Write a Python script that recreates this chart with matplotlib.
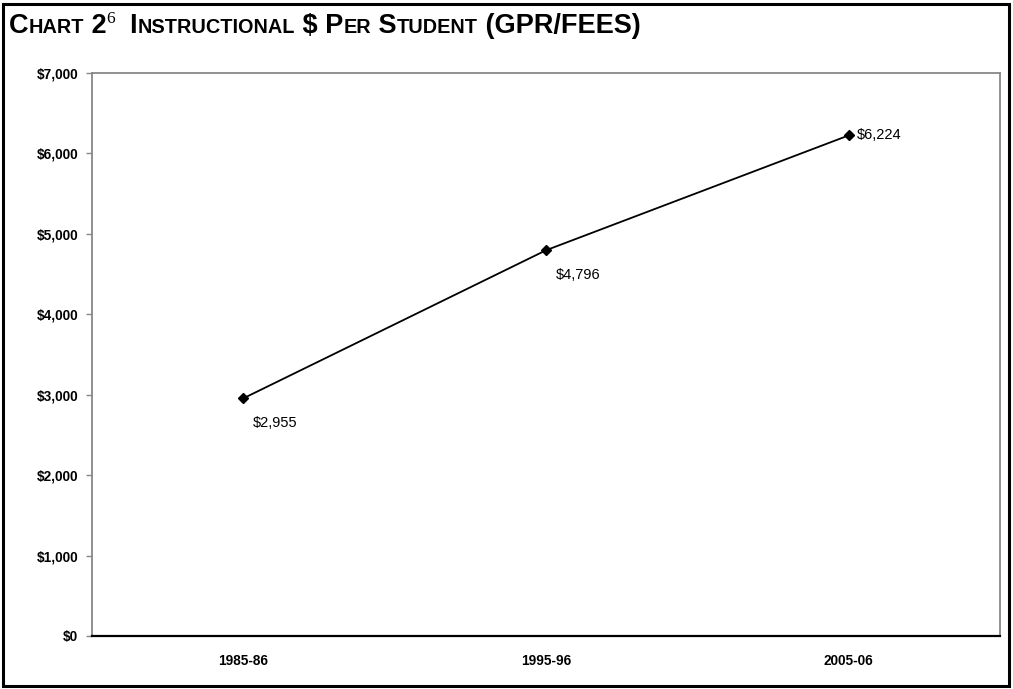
import matplotlib
matplotlib.use("Agg")
import matplotlib.pyplot as plt
from matplotlib.patches import Rectangle

categories = ["1985-86", "1995-96", "2005-06"]
values = [2955, 4796, 6224]
labels = ["$2,955", "$4,796", "$6,224"]
yticks = [0, 1000, 2000, 3000, 4000, 5000, 6000, 7000]
ytick_labels = ["$0", "$1,000", "$2,000", "$3,000", "$4,000", "$5,000", "$6,000", "$7,000"]

W, H = 1013, 689
fig = plt.figure(figsize=(W / 100, H / 100), dpi=100)
plt.rcParams['font.family'] = ['Liberation Sans', 'DejaVu Sans']

# outer frame
fig.patches.append(Rectangle((3 / W, 3 / H), (W - 7) / W, (H - 7) / H, transform=fig.transFigure,
                             fill=False, edgecolor='black', linewidth=2.2))

left, right, top, bottom = 92, 1000, 73, 636
ax = fig.add_axes([left / W, 1 - bottom / H, (right - left) / W, (bottom - top) / H])
x = list(range(len(categories)))
ax.plot(x, values, color='black', linewidth=1.3, marker='D', markersize=5.5,
        markerfacecolor='black', markeredgecolor='black')
ax.set_xlim(-0.5, 2.5)
ax.set_ylim(0, 7000)
ax.set_yticks(yticks)
ax.set_yticklabels(ytick_labels, fontsize=9.8, fontweight='bold')
ax.set_xticks(x)
ax.set_xticklabels(categories, fontsize=9.8, fontweight='bold')
ax.tick_params(axis='x', length=0, pad=13)
ax.tick_params(axis='y', length=4, width=1, color='#888888', pad=6, direction='out')
for s in ['top', 'right', 'left']:
    ax.spines[s].set_color('#888888')
    ax.spines[s].set_linewidth(1.3)
ax.spines['bottom'].set_color('black')
ax.spines['bottom'].set_linewidth(1.6)

offsets = [(7, -18), (7, -18), (6, 0)]
for xi, v, lab, off in zip(x, values, labels, offsets):
    ax.annotate(lab, (xi, v), xytext=off, textcoords='offset points',
                fontsize=10.5, ha='left', va='center')

# title with small caps
big, small = 19.5, 14.3
pieces = [("C", big, 'sans'), ("HART", small, 'sans'), (" 2", big, 'sans'), ("6", 12.5, 'serif'),
          ("  I", big, 'sans'), ("NSTRUCTIONAL", small, 'sans'), (" $ P", big, 'sans'), ("ER", small, 'sans'),
          (" S", big, 'sans'), ("TUDENT", small, 'sans'), (" (GPR/FEES)", big, 'sans')]
renderer = fig.canvas.get_renderer()
xpos = 9
base_y = H - 33
for txt, fs, fam in pieces:
    yy = base_y
    if fam == 'serif':
        yy = base_y + 10
        t = fig.text(xpos / W, yy / H, txt, fontsize=fs, family=['Liberation Serif', 'DejaVu Serif'],
                     ha='left', va='baseline')
    else:
        t = fig.text(xpos / W, yy / H, txt, fontsize=fs, fontweight='bold', ha='left', va='baseline')
    bb = t.get_window_extent(renderer=renderer)
    xpos += bb.width

fig.savefig("out.png", dpi=100)
